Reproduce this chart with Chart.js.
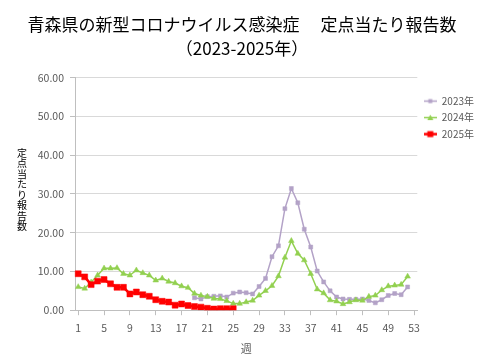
<!DOCTYPE html>
<html>
<head>
<meta charset="utf-8">
<script src="https://cdn.jsdelivr.net/npm/chart.js@4.4.1/dist/chart.umd.min.js"></script>
<style>
  html, body { margin: 0; padding: 0; background: #fff; }
  #wrap { width: 480px; height: 360px; }
</style>
</head>
<body>
<div id="wrap"><canvas id="chart" width="480" height="360"></canvas></div>
<script>
const weeks = ['1','2','3','4','5','6','7','8','9','10','11','12','13','14','15','16','17','18','19','20',
  '21','22','23','24','25','26','27','28','29','30','31','32','33','34','35','36','37','38','39','40',
  '41','42','43','44','45','46','47','48','49','50','51','52','53'];

// 2023: reporting starts at week 19
const y2023 = [null, null, null, null, null, null, null, null, null, null,
  null, null, null, null, null, null, null, null,
  3.2, 2.9, 3.5, 3.6, 3.7, 3.4, 4.4, 4.7, 4.5, 4.2,
  6.1, 8.2, 13.8, 16.6, 26.2, 31.4, 27.7, 20.9, 16.3, 10.1,
  7.3, 5.0, 3.4, 2.9, 2.8, 2.8, 2.9, 2.5, 1.9, 2.7,
  3.8, 4.3, 4.0, 6.0];

const y2024 = [6.0, 5.6, 7.2, 9.0, 10.8, 10.8, 10.9, 9.4, 9.0, 10.3,
  9.6, 9.0, 7.7, 8.2, 7.4, 7.0, 6.2, 5.8, 4.3, 3.8,
  3.5, 3.0, 2.9, 2.4, 1.7, 1.7, 2.1, 2.5, 3.8, 5.0,
  6.3, 8.8, 13.6, 17.9, 14.6, 12.9, 9.4, 5.4, 4.4, 2.6,
  2.3, 1.6, 2.1, 2.6, 2.5, 3.5, 3.8, 5.2, 6.2, 6.4,
  6.6, 8.7];

const y2025 = [9.4, 8.6, 6.6, 7.5, 7.9, 6.8, 5.9, 5.9, 4.2, 4.7,
  4.0, 3.6, 2.7, 2.3, 2.1, 1.3, 1.6, 1.2, 0.95, 0.8,
  0.5, 0.3, 0.4, 0.4, 0.4];

const seriesNames = ['2023年', '2024年', '2025年'];
const titleLines = ['青森県の新型コロナウイルス感染症　 定点当たり報告数', '（2023-2025年）'];
const yTitle = '定点当たり報告数';
const xTitle = '週';

const JP = '"Noto Sans CJK JP", "Noto Sans", sans-serif';
const GREY = '#595959';

// small line+marker glyphs for the legend
function glyph(color, style, size, lw) {
  const c = document.createElement('canvas');
  c.width = 13; c.height = 9;
  const g = c.getContext('2d');
  g.strokeStyle = color; g.fillStyle = color; g.lineWidth = lw;
  g.beginPath(); g.moveTo(0, 4.5); g.lineTo(13, 4.5); g.stroke();
  if (style === 'rect') {
    g.fillRect(6.5 - size / 2, 4.5 - size / 2, size, size);
  } else {
    g.beginPath();
    g.moveTo(6.5, 4.5 - size / 2 - 0.5);
    g.lineTo(6.5 + size / 2 + 0.5, 4.5 + size / 2);
    g.lineTo(6.5 - size / 2 - 0.5, 4.5 + size / 2);
    g.closePath(); g.fill();
  }
  return c;
}
const glyphs = [glyph('#B3A2C7', 'rect', 4, 1.5), glyph('#92D050', 'tri', 5, 1.5), glyph('#FF0000', 'rect', 6, 2.5)];

const yTitlePlugin = {
  id: 'yTitle',
  afterDraw(chart) {
    const ctx = chart.ctx;
    const {top, bottom} = chart.chartArea;
    const chars = Array.from(yTitle);
    const step = 10.5;
    const mid = (top + bottom) / 2 - 4;
    ctx.save();
    ctx.font = '10px ' + JP;
    ctx.fillStyle = '#000';
    ctx.textAlign = 'center';
    ctx.textBaseline = 'middle';
    chars.forEach((ch, i) => ctx.fillText(ch, 22, mid + (i - (chars.length - 1) / 2) * step));
    ctx.restore();
  }
};

new Chart(document.getElementById('chart'), {
  type: 'line',
  data: {
    labels: weeks,
    datasets: [
      {
        label: seriesNames[0], data: y2023, order: 3,
        borderColor: '#B3A2C7', backgroundColor: '#B3A2C7', borderWidth: 1.5,
        pointStyle: 'rect', pointRadius: 2.8, pointBorderWidth: 0.5, tension: 0
      },
      {
        label: seriesNames[1], data: y2024, order: 2,
        borderColor: '#92D050', backgroundColor: '#92D050', borderWidth: 1.5,
        pointStyle: 'triangle', pointRadius: 3.3, pointBorderWidth: 0.5, tension: 0
      },
      {
        label: seriesNames[2], data: y2025, order: 1,
        borderColor: '#FF0000', backgroundColor: '#FF0000', borderWidth: 2.5,
        pointStyle: 'rect', pointRadius: 4.2, pointBorderWidth: 0.5, tension: 0
      }
    ]
  },
  options: {
    responsive: false,
    animation: false,
    layout: { padding: { left: 0, right: -4, top: 0, bottom: 0 } },
    plugins: {
      title: {
        display: true,
        text: titleLines,
        color: '#000',
        font: { family: JP, size: 17, weight: 'normal', lineHeight: 1.4 },
        padding: { top: 13, bottom: 17 }
      },
      legend: {
        position: 'right',
        align: 'start',
        fullSize: false,
        title: { display: true, text: '', font: { size: 1, lineHeight: 1 }, padding: { top: 11, bottom: 0 } },
        labels: {
          color: GREY,
          font: { family: JP, size: 10 },
          usePointStyle: true,
          pointStyleWidth: 13,
          padding: 6.5,
          sort: (a, b) => a.datasetIndex - b.datasetIndex,
          generateLabels(chart) {
            const items = Chart.defaults.plugins.legend.labels.generateLabels(chart);
            items.forEach(it => { it.pointStyle = glyphs[it.datasetIndex]; });
            return items;
          }
        }
      },
      tooltip: { enabled: false }
    },
    scales: {
      x: {
        offset: true,
        grid: { drawOnChartArea: false, tickLength: 5, color: '#BFBFBF' },
        border: { color: '#BFBFBF' },
        ticks: {
          autoSkip: false, maxRotation: 0, padding: 7,
          color: GREY, font: { family: JP, size: 10.5 },
          callback(val, idx) { return idx % 4 === 0 ? this.getLabelForValue(val) : null; }
        },
        title: { display: true, text: xTitle, color: GREY, font: { family: JP, size: 11 }, padding: { top: 0, bottom: 5 } }
      },
      y: {
        min: 0, max: 60,
        afterFit(scale) { scale.width = 75; },
        grid: { color: '#D9D9D9', tickLength: 5, tickColor: '#BFBFBF' },
        border: { color: '#BFBFBF' },
        ticks: {
          stepSize: 10, padding: 6,
          color: GREY, font: { family: JP, size: 10.5 },
          callback: v => v.toFixed(2)
        }
      }
    }
  },
  plugins: [yTitlePlugin]
});
</script>
</body>
</html>
